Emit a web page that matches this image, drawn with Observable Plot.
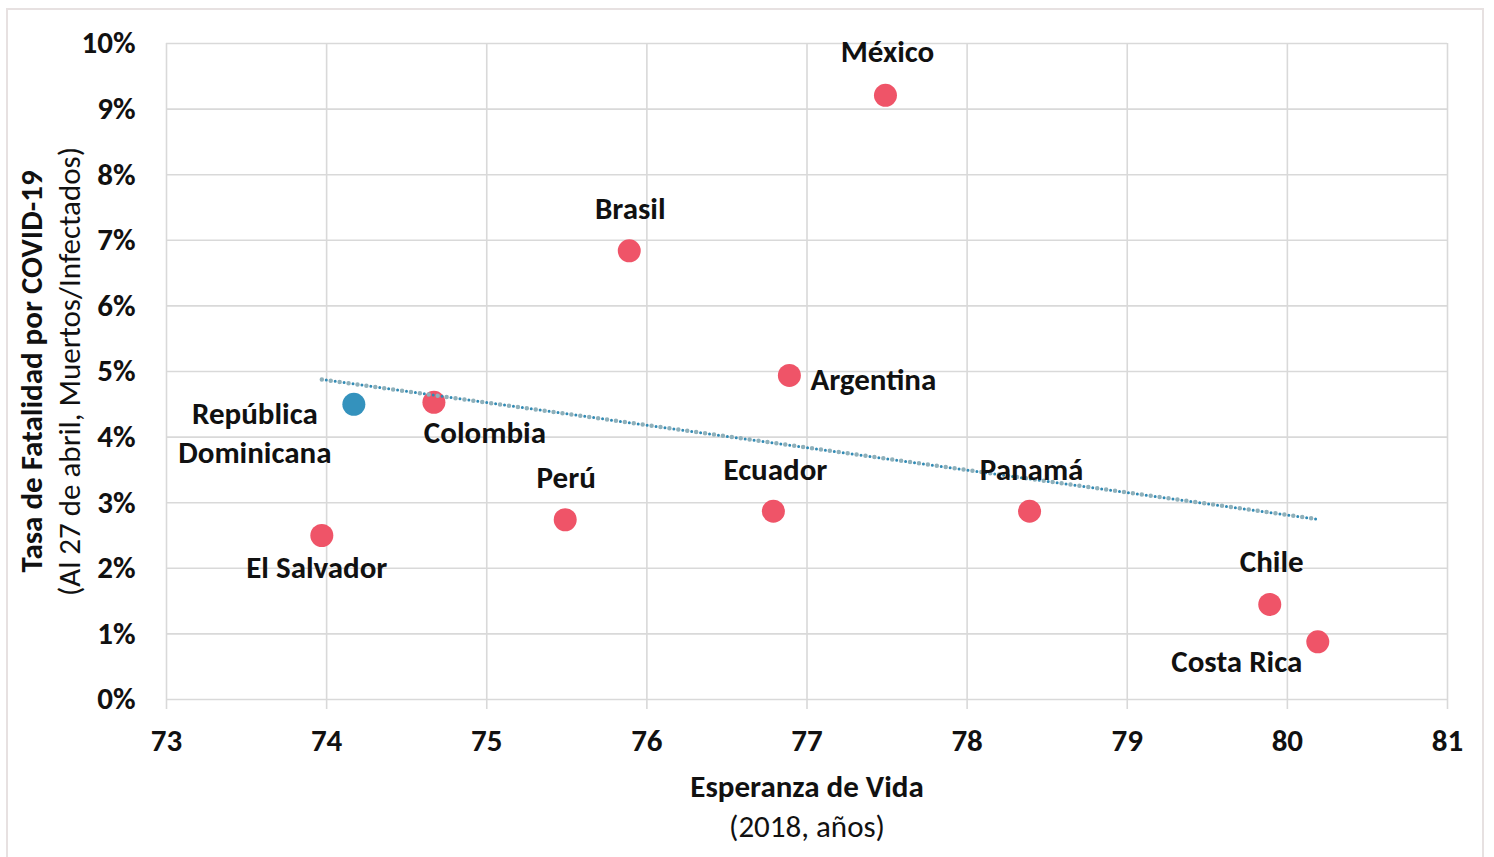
<!DOCTYPE html>
<html>
<head>
<meta charset="utf-8">
<script src="https://cdn.jsdelivr.net/npm/d3@7"></script>
<script src="https://cdn.jsdelivr.net/npm/@observablehq/plot@0.6"></script>
<style>
  html, body { margin: 0; padding: 0; background: #fff; overflow: hidden; }
  #wrap { position: relative; width: 1494px; height: 857px; }
  #border { position: absolute; left: 6px; top: 8px; width: 1478px; height: 880px; border: 2px solid #e7e1e1; box-sizing: border-box; pointer-events: none; }
  svg { font-family: Calibri, Carlito, Lato, sans-serif; }
</style>
</head>
<body>
<div id="wrap"><div id="border"></div></div>
<script>
// ---- data ----
const countries = ["México", "Brasil", "Argentina", "República Dominicana", "Colombia", "Perú", "Ecuador", "Panamá", "El Salvador", "Chile", "Costa Rica"];
const lifeExpectancy = [77.49, 75.89, 76.89, 74.17, 74.67, 75.49, 76.79, 78.39, 73.97, 79.89, 80.19];
const fatalityRate = [9.21, 6.84, 4.94, 4.50, 4.53, 2.74, 2.87, 2.87, 2.50, 1.45, 0.88];
const highlighted = ["República Dominicana"];
const xTicks = [73, 74, 75, 76, 77, 78, 79, 80, 81];
const yTicks = [0, 1, 2, 3, 4, 5, 6, 7, 8, 9, 10];

// ---- label layout (styling, not data) ----
const labelLayout = {
  "México": {dx: 2, dy: -46, anchor: "middle", text: "México"},
  "Brasil": {dx: 1, dy: -44, anchor: "middle", text: "Brasil"},
  "Argentina": {dx: 21, dy: 2, anchor: "start", text: "Argentina"},
  "República Dominicana": {dx: -99, dy: 27, anchor: "middle", text: "República\nDominicana"},
  "Colombia": {dx: 51, dy: 28, anchor: "middle", text: "Colombia"},
  "Perú": {dx: 1, dy: -44, anchor: "middle", text: "Perú"},
  "Ecuador": {dx: 2, dy: -44, anchor: "middle", text: "Ecuador"},
  "Panamá": {dx: 2, dy: -44, anchor: "middle", text: "Panamá"},
  "El Salvador": {dx: -5, dy: 30, anchor: "middle", text: "El Salvador"},
  "Chile": {dx: 2, dy: -45, anchor: "middle", text: "Chile"},
  "Costa Rica": {dx: -81, dy: 18, anchor: "middle", text: "Costa Rica"}
};

const table = countries.map((c, i) => ({
  country: c,
  x: lifeExpectancy[i],
  y: fatalityRate[i],
  hl: highlighted.includes(c)
}));

const FONT = 31;
const labelMarks = table.map(d => {
  const L = labelLayout[d.country];
  return Plot.text([d], {
    x: "x", y: "y", text: () => L.text, dx: L.dx, dy: L.dy,
    textAnchor: L.anchor, lineAnchor: "middle", lineHeight: 1.25,
    fontSize: FONT, fontWeight: "bold", fill: "#111"
  });
});

const chart = Plot.plot({
  width: 1494,
  height: 857,
  marginLeft: 166,
  marginRight: 47,
  marginTop: 43,
  marginBottom: 158,
  style: {fontFamily: "Calibri, Carlito, Lato, sans-serif", background: "transparent", overflow: "visible"},
  x: {domain: [73, 81]},
  y: {domain: [0, 10]},
  marks: [
    Plot.gridX({ticks: xTicks, stroke: "#d9d9d9", strokeOpacity: 1, strokeWidth: 1.6}),
    Plot.gridY({ticks: yTicks, stroke: "#d9d9d9", strokeOpacity: 1, strokeWidth: 1.6}),
    Plot.axisX({ticks: xTicks, tickFormat: d => String(d), tickSize: 10, stroke: "#d9d9d9", strokeWidth: 1.6, strokeOpacity: 1, tickPadding: 19, fontSize: FONT, fontWeight: "bold", fill: "#111", label: null}),
    Plot.axisY({ticks: yTicks, tickSize: 0, tickPadding: 31, fontSize: FONT, fontWeight: "bold", fill: "#111", tickFormat: d => d + "%", label: null}),
    Plot.dot(table, {x: "x", y: "y", r: 11.5, fill: d => d.hl ? "#3492bd" : "#ef5468", stroke: "none"}),
    Plot.linearRegressionY(table, {x: "x", y: "y", ci: 0, stroke: "#8fb0ba", strokeWidth: 4.5, strokeDasharray: "0,9", strokeLinecap: "round"}),
    Plot.linearRegressionY(table, {x: "x", y: "y", ci: 0, stroke: "#2f8ab5", strokeWidth: 3, strokeDasharray: "0,9", strokeDashoffset: 4.5, strokeLinecap: "round"}),
    ...labelMarks,
    Plot.text(["Tasa de Fatalidad por COVID-19"], {frameAnchor: "left", rotate: -90, dx: -134, fontSize: FONT, fontWeight: "bold", fill: "#111", textAnchor: "middle", lineAnchor: "middle"}),
    Plot.text(["(Al 27 de abril, Muertos/Infectados)"], {frameAnchor: "left", rotate: -90, dx: -96, fontSize: FONT, fill: "#111", textAnchor: "middle", lineAnchor: "middle"}),
    Plot.text(["Esperanza de Vida"], {frameAnchor: "bottom", dy: 88, fontSize: FONT, fontWeight: "bold", fill: "#111", textAnchor: "middle", lineAnchor: "middle"}),
    Plot.text(["(2018, años)"], {frameAnchor: "bottom", dy: 128, fontSize: FONT, fill: "#111", textAnchor: "middle", lineAnchor: "middle"})
  ]
});
document.getElementById("wrap").appendChild(chart);
</script>
</body>
</html>
